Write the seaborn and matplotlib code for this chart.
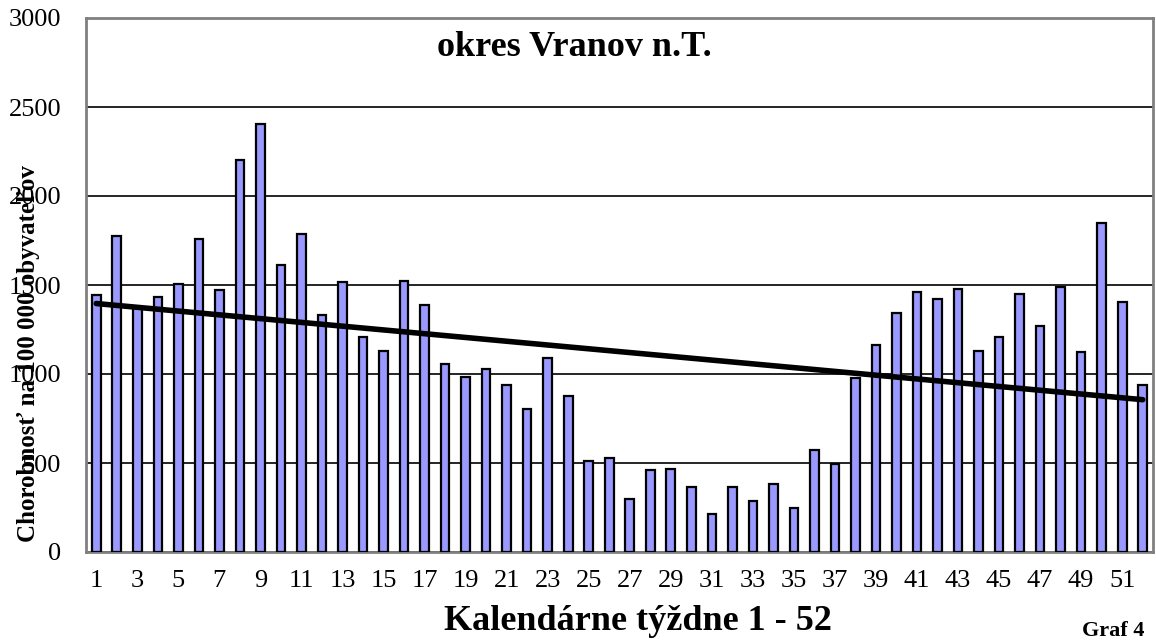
import numpy as np
import pandas as pd
import matplotlib
matplotlib.use("Agg")
import matplotlib.pyplot as plt
import seaborn as sns

weeks = list(range(1, 53))
values = [1445, 1778, 1370, 1432, 1508, 1761, 1471, 2203, 2402, 1615,
          1788, 1329, 1516, 1207, 1128, 1520, 1389, 1057, 984, 1029,
          937, 806, 1089, 874, 510, 527, 295, 462, 465, 364,
          211, 366, 289, 381, 250, 574, 497, 977, 1164, 1340,
          1463, 1420, 1480, 1132, 1207, 1450, 1272, 1488, 1121, 1851,
          1406, 941]
yticks = [0, 500, 1000, 1500, 2000, 2500, 3000]
title = "okres Vranov n.T."
xlabel = "Kalendárne týždne 1 - 52"
ylabel = "Chorobnosť na 100 000 obyvateľov"
note = "Graf 4"

df = pd.DataFrame({"week": [str(w) for w in weeks], "value": values})

sns.set_style("white")
plt.rcParams["font.family"] = ["Liberation Serif", "DejaVu Serif"]
plt.rcParams["text.color"] = "black"

W, H = 1156, 641
fig = plt.figure(figsize=(W / 100, H / 100), dpi=100)
ax = fig.add_axes([86 / W, 1 - 552 / H, (1153 - 86) / W, (552 - 18) / H])

sns.barplot(data=df, x="week", y="value", color="#9999FF", saturation=1,
            edgecolor="black", linewidth=1.6, width=0.42, ax=ax, zorder=3)

# linear trend line
xi = np.arange(len(values))
coef = np.polyfit(xi, values, 1)
ax.plot(xi, np.polyval(coef, xi), color="black", linewidth=4, zorder=4,
        solid_capstyle="round")

ax.set_xlim(-0.5, len(values) - 0.5)
ax.set_ylim(0, 3000)
ax.set_yticks(yticks)
ax.set_yticklabels([str(t) for t in yticks], fontsize=19)
ax.yaxis.grid(True, color="black", linewidth=1.2, zorder=0)
ax.set_axisbelow(True)

ax.set_xticks(xi[::2])
ax.set_xticklabels([str(w) for w in weeks[::2]], fontsize=19)
ax.set_xticks(np.arange(-0.5, len(values), 1), minor=True)
ax.tick_params(axis="x", which="major", length=0, pad=13, labelcolor="black")
ax.tick_params(axis="x", which="minor", length=6, width=1, color="#555555", direction="out")
ax.tick_params(axis="y", length=7, width=1, color="#555555", direction="out", pad=11,
               labelcolor="black")

for s in ax.spines.values():
    s.set_visible(True)
    s.set_color("#808080")
    s.set_linewidth(2)

ax.set_xlabel("")
ax.set_ylabel("")

ax.text((574 - 86) / (1153 - 86), (552 - 56) / (552 - 18), title, transform=ax.transAxes,
        ha="center", va="baseline", fontsize=26, fontweight="bold")
fig.text(638 / W, 1 - 630 / H, xlabel, ha="center", va="baseline",
         fontsize=26, fontweight="bold")
fig.text(29 / W, 1 - 354 / H, ylabel, ha="center", va="center",
         rotation=90, fontsize=18, fontweight="bold")
fig.text(1113 / W, 1 - 636 / H, note, ha="center", va="baseline",
         fontsize=16, fontweight="bold")

fig.savefig("out.png", dpi=100)
